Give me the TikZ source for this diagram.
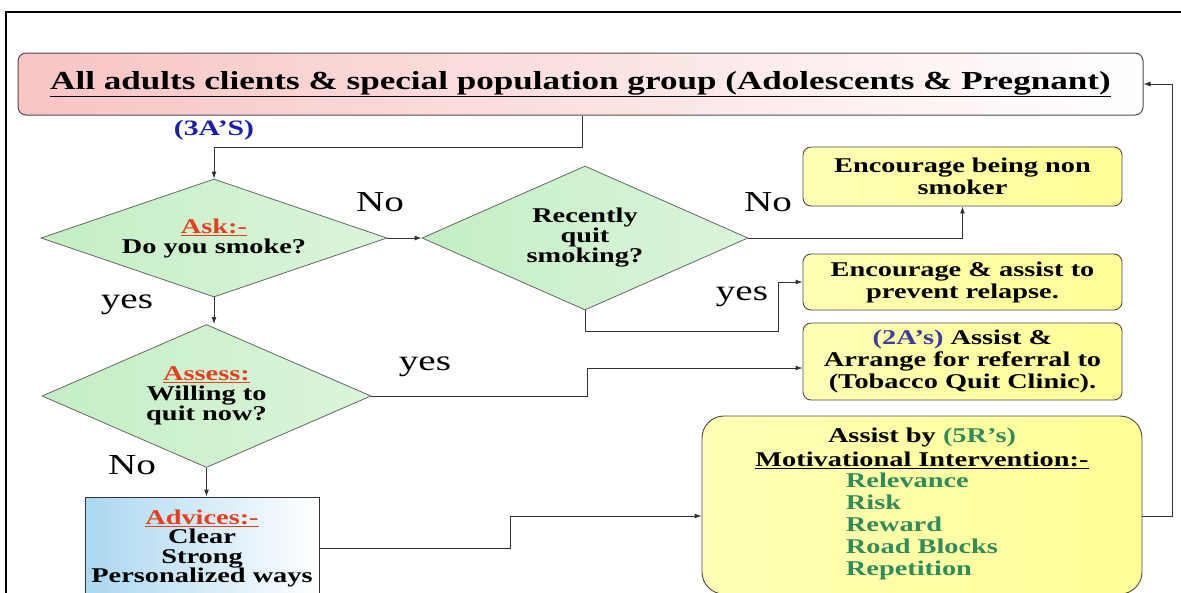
\documentclass[tikz,border=0pt]{standalone}
\usepackage{fontspec}
\setmainfont{Liberation Serif}[FakeStretch=1.35]
\usetikzlibrary{arrows.meta,shapes.geometric}
\definecolor{headred}{RGB}{228,64,32}
\definecolor{threeblue}{RGB}{30,30,170}
\definecolor{twoblue}{RGB}{60,60,160}
\definecolor{rgreen}{RGB}{50,140,90}
\definecolor{pinkfill}{RGB}{248,196,196}
\definecolor{dgreen}{RGB}{196,238,196}
\definecolor{yfill}{RGB}{255,255,150}
\definecolor{bfill}{RGB}{170,215,240}
\tikzset{>/.tip={Latex[length=7pt,width=5pt]},
  conn/.style={draw=black!80, line width=0.9pt},
  titlebox/.style={draw=black!70, line width=1pt, rounded corners=8pt,
    left color=pinkfill, right color=white, inner sep=0pt,
    font=\fontsize{26}{30}\selectfont\bfseries},
  decision/.style={diamond, draw=black!60, line width=0.8pt, inner sep=0pt,
    left color=dgreen, middle color=white, right color=dgreen!60,
    align=center, font=\fontsize{21}{20}\selectfont\bfseries},
  actbox/.style={draw=black!70, line width=0.9pt, rounded corners=8pt,
    left color=yfill!70, middle color=yfill!40, right color=yfill,
    align=center, inner sep=0pt, font=\fontsize{21}{22}\selectfont\bfseries},
  advbox/.style={draw=black!80, line width=0.9pt, left color=bfill,
    right color=white, align=center, inner sep=0pt,
    font=\fontsize{21}{19.5}\selectfont\bfseries},
  yn/.style={inner sep=0pt, font=\fontsize{29}{30}\selectfont}}
\newcommand{\redhead}[1]{{\color{headred}\underline{#1}}}

\begin{document}
\begin{tikzpicture}[x=1pt, y=-1pt]
 \useasboundingbox (0,0) rectangle (1181,592);
 \draw[line width=2pt] (6,600) -- (6,12) -- (1181,12);

 \node[titlebox, minimum width=1125, minimum height=62] (title) at (580.5,84)
   {\underline{All adults clients \& special population group (Adolescents \& Pregnant)}};
 \node[inner sep=0pt, text=threeblue, font=\fontsize{22}{24}\selectfont\bfseries] (threeA) at (214,130) {(3A’S)};

 \node[decision, aspect=2.93, minimum width=346, minimum height=118] (ask)    at (214,238) {\redhead{Ask:-}\\Do you smoke?};
 \node[decision, aspect=2.26, minimum width=326, minimum height=144] (recent) at (585,238) {Recently\\quit\\smoking?};
 \node[decision, aspect=2.3, minimum width=329, minimum height=143] (assess) at (206.5,396) {\redhead{Assess:}\\Willing to\\quit now?};

 \node[actbox, minimum width=319, minimum height=59] (nonsmk)  at (962.5,176.5) {Encourage being non\\smoker};
 \node[actbox, minimum width=319, minimum height=56] (relapse) at (962.5,282) {Encourage \& assist to\\prevent relapse.};
 \node[actbox, minimum width=319, minimum height=77] (arrange) at (962.5,361.5)
   {{\color{twoblue}(2A’s)} Assist \&\\Arrange for referral to\\(Tobacco Quit Clinic).};
 \node[actbox, rounded corners=22pt, minimum width=440, minimum height=178] (motiv) at (922,505)
   {Assist by {\color{rgreen}(5R’s)}\\[2pt]\underline{Motivational Intervention:-}\\[3pt]
    {\color{rgreen}\begin{tabular}{@{}l@{}}Relevance\\Risk\\Reward\\Road Blocks\\Repetition\end{tabular}}};
 \node[advbox, minimum width=234, minimum height=103] (advices) at (202,548.5)
   {\redhead{Advices:-}\\Clear\\Strong\\Personalized ways};

 \node[yn] (noA)  at (380,202) {No};
 \node[yn] (yesA) at (127,305) {yes};
 \node[yn] (yesB) at (425,367) {yes};
 \node[yn] (noB)  at (132,465) {No};
 \node[yn] (noC)  at (768,202) {No};
 \node[yn] (yesC) at (742,297) {yes};

 \draw[conn, ->] (title.south -| 582,0) -- (582,147) -| (ask.north);
 \draw[conn, ->] (ask.east) -- (recent.west);
 \draw[conn, ->] (recent.east) -| (nonsmk.south);
 \draw[conn, ->] (recent.south) -- (585,331) -| (778,282) -- (relapse.west);
 \draw[conn, ->] (ask.south) -- (ask.south |- assess.north);
 \draw[conn, ->] (assess.east) -| (587,368) -- (arrange.west |- 0,368);
 \draw[conn, ->] (assess.south) -- (assess.south |- advices.north);
 \draw[conn, ->] (advices.east) -| (510,516) -- (motiv.west |- 0,516);
 \draw[conn, ->] (motiv.east |- 0,516) -- (1172,516) |- (title.east);
\end{tikzpicture}
\end{document}
